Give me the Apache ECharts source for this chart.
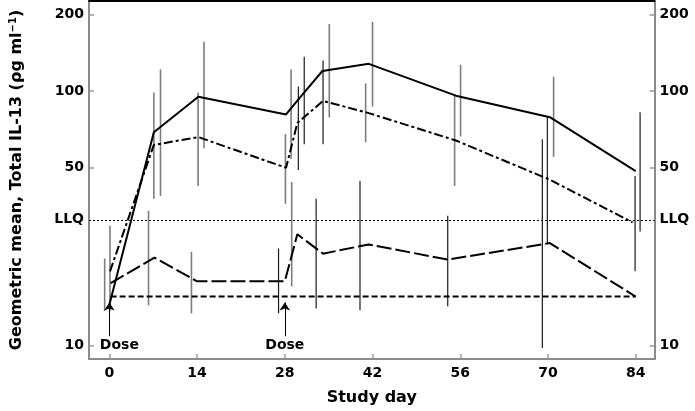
<!DOCTYPE html>
<html>
<head>
<meta charset="utf-8">
<script src="https://cdn.jsdelivr.net/npm/echarts@6/dist/echarts.min.js"></script>
<style>
html,body{margin:0;padding:0;background:#fff;}
#chart{width:695px;height:411px;}
</style>
</head>
<body>
<div id="chart"></div>
<script>
// ---- data ----
const xTicks = [0, 14, 28, 42, 56, 70, 84];
const yTicks = [10, 50, 100, 200];
const LLQ = 31.25;
const yLabelValues = [10, 31.25, 50, 100, 200];

const solidDays = [0, 7.1, 14.2, 28.2, 30.2, 34, 41.4, 55.3, 70.3, 84];
const solidVals = [14.5, 69, 95, 81, 93, 120, 128, 96, 79, 48.5];

const dashDotDays = [0.1, 7.1, 14.2, 28.2, 30, 34.1, 41.4, 55.3, 70.2, 83.5];
const dashDotVals = [19.6, 61.5, 66, 50, 75, 91.5, 82, 64, 45, 30.5];

const longDashDays = [0.2, 7.2, 14, 28, 30, 34.1, 41.4, 54, 70.3, 84];
const longDashVals = [17.6, 22.2, 17.9, 17.9, 27.4, 23, 25, 21.8, 25.3, 15.6];

const placeboDays = [0.2, 84];
const placeboVals = [15.6, 15.6];

// error bars: day, low, high, shade (0 = grey, 1 = black)
const errDays  = [-0.75, 0.1, 6.25, 7.1, 8.16, 13.1, 14.16, 15.1, 27.0, 28.1, 29.0, 29.1, 30.16, 31.1, 33.0, 34.1, 35.1, 40.0, 40.9, 42.0, 54.0, 55.1, 56.05, 69.1, 69.9, 70.9, 83.9, 84.7];
const errLow   = [13.7, 13.7, 14.4, 37.8, 38.8, 13.4, 42.4, 59.7, 13.4, 36.1, 54.1, 17.1, 49.0, 61.9, 14.0, 61.9, 78.9, 13.8, 63.0, 87.1, 14.3, 42.4, 66.5, 9.8, 25.2, 55.1, 19.6, 28.1];
const errHigh  = [22.0, 29.6, 33.9, 98.9, 121.7, 23.4, 98.9, 156.3, 24.1, 67.8, 121.7, 44.0, 104.3, 136.6, 37.8, 131.8, 183.6, 44.4, 107.2, 187.1, 32.4, 97.0, 127.0, 64.7, 78.9, 114.0, 46.4, 82.6];
const errShade = [0, 0, 0, 0, 0, 0, 0, 0, 1, 0, 0, 0, 1, 1, 1, 1, 0, 1, 0, 0, 1, 0, 0, 1, 1, 0, 1, 1];

const doseDays = [0, 28];
const doseLabelDays = [1.6, 28];

// ---- chart ----
const FONT = 'DejaVu Sans';
const zip = (a, b) => a.map((v, i) => [v, b[i]]);
const errData = errDays.map((d, i) => [d, errLow[i], errHigh[i], errShade[i]]);

const yAxisBase = (pos) => ({
  type: 'log',
  logBase: 10,
  position: pos,
  min: 8.87,
  max: 226,
  axisLine: {show: true, onZero: false, lineStyle: {color: '#8a8a8a', width: 2}},
  axisTick: {show: true, inside: true, length: 5, customValues: yTicks, lineStyle: {color: '#9a9a9a', width: 1.5}},
  axisLabel: {
    customValues: yLabelValues,
    margin: 5,
    color: '#000',
    fontFamily: FONT,
    fontWeight: 'bold',
    fontSize: 14,
    formatter: v => (Math.abs(v - LLQ) < 0.01 ? 'LLQ' : String(Math.round(v)))
  },
  splitLine: {show: false},
  minorTick: {show: false}
});

const leftY = yAxisBase('left');
leftY.name = 'Geometric mean, Total IL-13 (ρg ml{sup|−1})';
leftY.nameLocation = 'middle';
leftY.nameGap = 63;
leftY.nameTextStyle = {
  color: '#000', fontFamily: FONT, fontWeight: 'bold', fontSize: 16,
  rich: {sup: {fontSize: 10, fontFamily: FONT, fontWeight: 'bold', color: '#000', verticalAlign: 'top', padding: [0, 0, 8, 0]}}
};
const rightY = yAxisBase('right');

const chart = echarts.init(document.getElementById('chart'), null, {renderer: 'canvas'});
chart.setOption({
  animation: false,
  backgroundColor: '#fff',
  grid: {left: 87, right: 40.5, top: 1, bottom: 50, containLabel: false},
  xAxis: [{
    type: 'value',
    min: -3.25,
    max: 87,
    position: 'bottom',
    name: 'Study day',
    nameLocation: 'middle',
    nameGap: 31,
    nameTextStyle: {color: '#000', fontFamily: FONT, fontWeight: 'bold', fontSize: 16},
    axisLine: {show: true, onZero: false, lineStyle: {color: '#8a8a8a', width: 2}},
    axisTick: {show: true, inside: true, length: 5, customValues: xTicks, lineStyle: {color: '#9a9a9a', width: 1.5}},
    axisLabel: {customValues: xTicks, margin: 7, color: '#000', fontFamily: FONT, fontWeight: 'bold', fontSize: 14},
    splitLine: {show: false}
  }, {
    type: 'value',
    min: -3.25,
    max: 87,
    position: 'top',
    axisLine: {show: true, onZero: false, lineStyle: {color: '#000', width: 2}},
    axisTick: {show: false},
    axisLabel: {show: false},
    splitLine: {show: false}
  }],
  yAxis: [leftY, rightY],
  series: [
    {
      type: 'custom',
      name: 'errors',
      xAxisIndex: 0, yAxisIndex: 0,
      data: errData,
      encode: {x: 0, y: [1, 2]},
      renderItem: (params, api) => {
        const x = api.value(0);
        const p1 = api.coord([x, api.value(1)]);
        const p2 = api.coord([x, api.value(2)]);
        const black = api.value(3) === 1;
        return {
          type: 'line',
          shape: {x1: p1[0], y1: p1[1], x2: p2[0], y2: p2[1]},
          style: {stroke: black ? '#1a1a1a' : '#7d7d7d', lineWidth: black ? 1.2 : 1.6}
        };
      },
      z: 1
    },
    {
      type: 'line', name: 'solid', data: zip(solidDays, solidVals),
      showSymbol: false, symbol: 'none',
      lineStyle: {color: '#000', width: 2, type: 'solid'}, z: 3
    },
    {
      type: 'line', name: 'dashdot', data: zip(dashDotDays, dashDotVals),
      showSymbol: false, symbol: 'none',
      lineStyle: {color: '#000', width: 2, type: [9, 3, 3, 3]}, z: 3
    },
    {
      type: 'line', name: 'longdash', data: zip(longDashDays, longDashVals),
      showSymbol: false, symbol: 'none',
      lineStyle: {color: '#000', width: 2, type: [15, 4]}, z: 3
    },
    {
      type: 'line', name: 'placebo', data: zip(placeboDays, placeboVals),
      showSymbol: false, symbol: 'none',
      lineStyle: {color: '#000', width: 2, type: [6, 3]}, z: 3,
      markLine: {
        silent: true,
        animation: false,
        symbol: ['none', 'none'],
        label: {show: false},
        lineStyle: {color: '#000', width: 1, type: [2, 2]},
        data: [{yAxis: LLQ}]
      }
    },
    {
      type: 'line', name: 'dose', data: [],
      markLine: {
        silent: true,
        animation: false,
        symbol: ['none', 'arrow'],
        symbolSize: 8,
        label: {show: false},
        lineStyle: {color: '#000', width: 1, type: 'solid'},
        data: doseDays.map(d => [{coord: [d, 10.9]}, {coord: [d, 14.8]}])
      },
      markPoint: {
        silent: true,
        animation: false,
        symbol: 'circle',
        symbolSize: 0,
        label: {show: true, position: 'inside', formatter: 'Dose', color: '#000', fontFamily: FONT, fontWeight: 'bold', fontSize: 14},
        data: doseLabelDays.map(d => ({coord: [d, 10]}))
      }
    }
  ]
});
</script>
</body>
</html>
